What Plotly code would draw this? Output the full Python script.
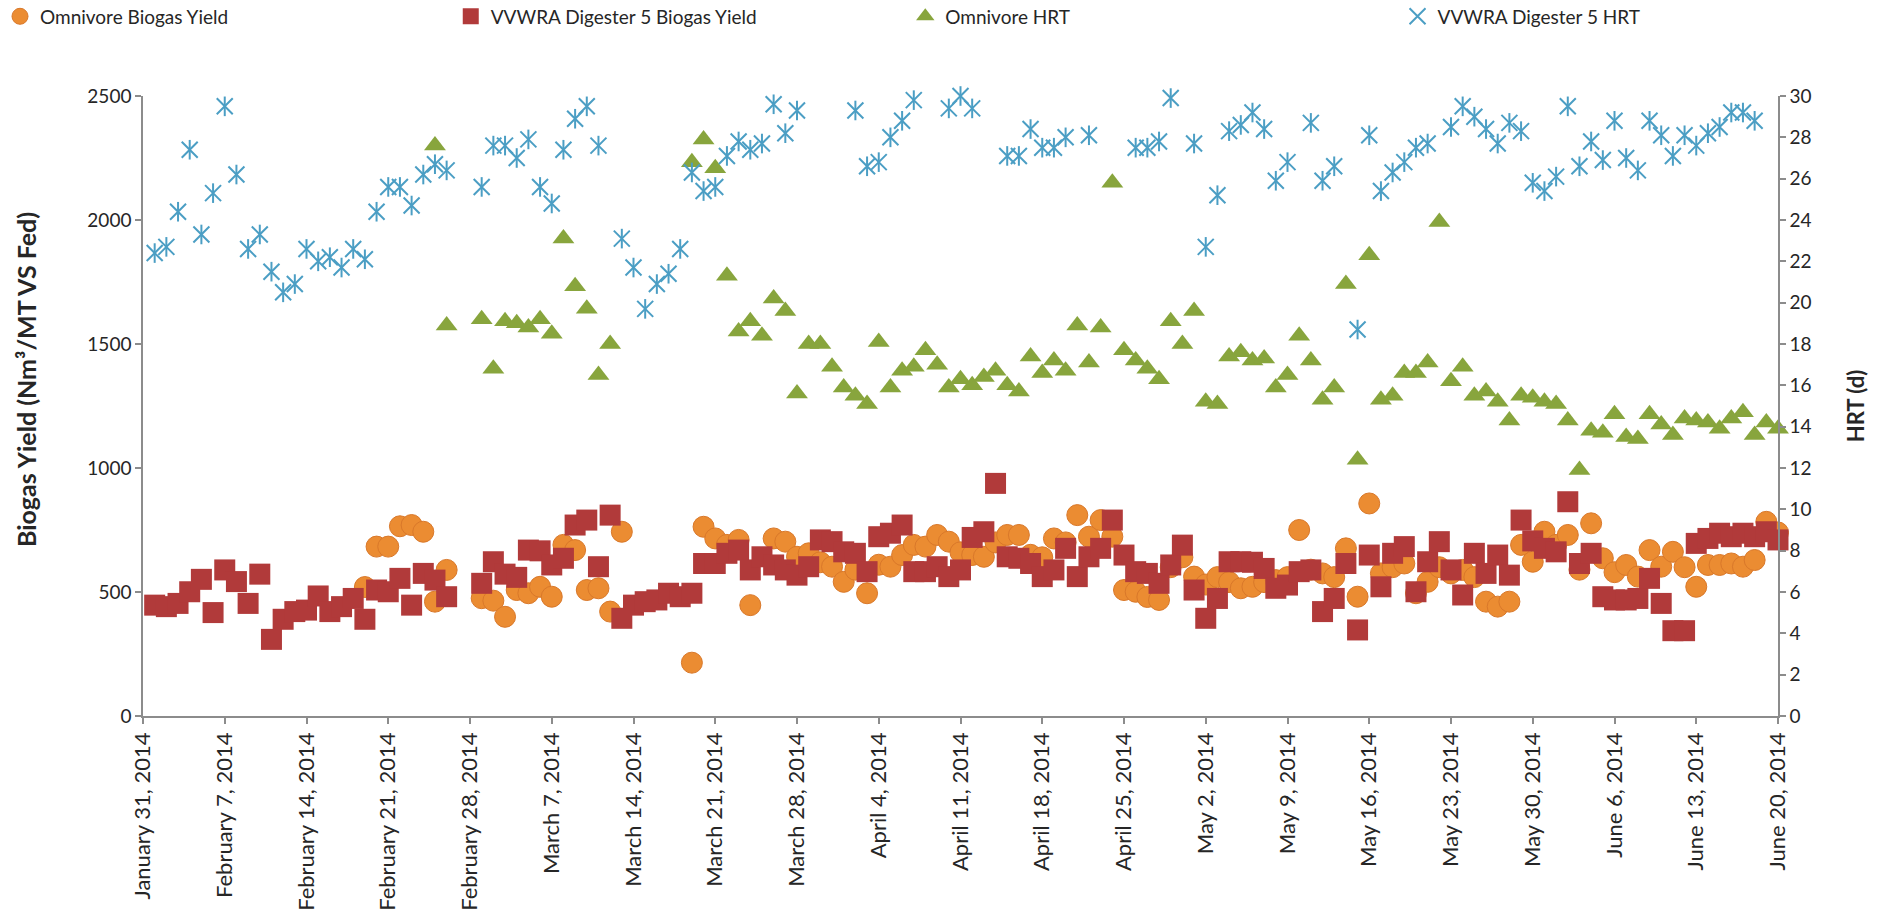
import pandas as pd
import plotly.graph_objects as go

N = None

# Daily observations, Feb 1 2014 .. Jun 20 2014 (one value per day, None = no sample)
dates = pd.date_range("2014-02-01", periods=140, freq="D")

omnivore_yield = [
    N, N, N, N, N, N, N, N, N, N,
    N, N, N, N, N, N, N, N, 520, 683,
    683, 765, 770, 743, 461, 589, N, N, 475, 465,
    400, 508, 495, 521, 481, 690, 669, 508, 515, 421,
    743, N, N, N, N, N, 215, 763, 716, 690,
    710, 447, N, 716, 703, 642, 656, 620, 602, 541,
    590, 495, 610, 602, 649, 690, 683, 730, 703, 660,
    649, 642, 700, 730, 730, 650, 640, 716, 700, 810,
    723, 790, 723, 508, 501, 480, 468, 600, 640, 562,
    530, 560, 540, 515, 521, 540, 548, 560, 750, 590,
    575, 560, 676, 481, 857, 575, 600, 615, 495, 541,
    600, 575, 589, 560, 461, 441, 461, 690, 622, 743,
    690, 730, 590, 777, 636, 580, 609, 562, 669, 602,
    662, 600, 521, 609, 609, 615, 602, 629, 783, 740,
]

vvwra_yield = [
    447, 441, 454, 501, 551, 417, 589, 542, 454, 572,
    309, 390, 421, 427, 484, 421, 441, 474, 390, 508,
    501, 555, 447, 575, 548, 481, N, N, 535, 622,
    572, 559, 669, 666, 609, 636, 770, 790, 602, 810,
    394, 447, 461, 468, 495, 481, 495, 615, 615, 656,
    669, 589, 642, 609, 589, 568, 602, 710, 703, 662,
    656, 582, 723, 737, 770, 582, 582, 602, 562, 589,
    720, 743, 938, 642, 636, 615, 562, 589, 676, 562,
    642, 676, 790, 649, 582, 575, 535, 609, 689, 508,
    394, 474, 622, 622, 620, 595, 515, 528, 582, 589,
    421, 474, 615, 347, 649, 521, 656, 683, 501, 622,
    703, 589, 488, 656, 575, 649, 568, 790, 706, 676,
    662, 864, 615, 656, 481, 468, 468, 474, 555, 454,
    344, 344, 696, 716, 737, 723, 737, 723, 743, 710,
]

omnivore_hrt = [
    N, N, N, N, N, N, N, N, N, N,
    N, N, N, N, N, N, N, N, N, N,
    N, N, N, N, 27.6, 18.9, N, N, 19.2, 16.8,
    19.1, 19.0, 18.8, 19.2, 18.5, 23.1, 20.8, 19.7, 16.5, 18.0,
    N, N, N, N, N, N, 26.8, 27.9, 26.5, 21.3,
    18.6, 19.1, 18.4, 20.2, 19.6, 15.6, 18.0, 18.0, 16.9, 15.9,
    15.5, 15.1, 18.1, 15.9, 16.7, 16.9, 17.7, 17.0, 15.9, 16.3,
    16.0, 16.4, 16.7, 16.0, 15.7, 17.4, 16.6, 17.2, 16.7, 18.9,
    17.1, 18.8, 25.8, 17.7, 17.2, 16.8, 16.3, 19.1, 18.0, 19.6,
    15.2, 15.1, 17.4, 17.6, 17.2, 17.3, 15.9, 16.5, 18.4, 17.2,
    15.3, 15.9, 20.9, 12.4, 22.3, 15.3, 15.5, 16.6, 16.6, 17.1,
    23.9, 16.2, 16.9, 15.5, 15.7, 15.2, 14.3, 15.5, 15.4, 15.2,
    15.1, 14.3, 11.9, 13.8, 13.7, 14.6, 13.5, 13.4, 14.6, 14.1,
    13.6, 14.4, 14.3, 14.2, 13.9, 14.4, 14.7, 13.6, 14.2, 13.9,
]

vvwra_hrt = [
    22.4, 22.7, 24.4, 27.4, 23.3, 25.3, 29.5, 26.2, 22.6, 23.3,
    21.5, 20.5, 20.9, 22.6, 22.0, 22.2, 21.7, 22.6, 22.1, 24.4,
    25.6, 25.6, 24.7, 26.2, 26.7, 26.4, N, N, 25.6, 27.6,
    27.6, 27.0, 27.9, 25.6, 24.8, 27.4, 28.9, 29.5, 27.6, N,
    23.1, 21.7, 19.7, 20.9, 21.4, 22.6, 26.3, 25.4, 25.6, 27.1,
    27.8, 27.4, 27.7, 29.6, 28.2, 29.3, N, N, N, N,
    29.3, 26.6, 26.8, 28.0, 28.8, 29.8, N, N, 29.4, 30.0,
    29.4, N, N, 27.1, 27.1, 28.4, 27.5, 27.5, 28.0, N,
    28.1, N, N, N, 27.5, 27.5, 27.8, 29.9, N, 27.7,
    22.7, 25.2, 28.3, 28.6, 29.2, 28.4, 25.9, 26.8, N, 28.7,
    25.9, 26.6, N, 18.7, 28.1, 25.4, 26.3, 26.8, 27.5, 27.7,
    N, 28.5, 29.5, 29.0, 28.4, 27.7, 28.7, 28.3, 25.8, 25.4,
    26.1, 29.5, 26.6, 27.8, 26.9, 28.8, 27.0, 26.4, 28.8, 28.1,
    27.1, 28.1, 27.6, 28.2, 28.5, 29.2, 29.2, 28.8, N, N,
]

week_ticks = pd.date_range("2014-01-31", "2014-06-20", freq="7D")

ORANGE = "#EB8C32"
RED = "#B13A3A"
GREEN = "#88A53D"
BLUE = "#4B9EC4"
AXIS = "#8C8C8C"
TEXT = "#262626"
FONT = "Lato"

fig = go.Figure()

fig.add_trace(go.Scatter(
    x=dates, y=omnivore_yield, mode="markers", name="Omnivore Biogas Yield",
    marker=dict(symbol="circle", size=21, color=ORANGE, line=dict(color="#D9782A", width=1)),
    cliponaxis=False, legend="legend",
))
fig.add_trace(go.Scatter(
    x=dates, y=vvwra_yield, mode="markers", name="VVWRA Digester 5 Biogas Yield",
    marker=dict(symbol="square", size=21, color=RED, line=dict(width=0)),
    cliponaxis=False, legend="legend2",
))
fig.add_trace(go.Scatter(
    x=dates, y=omnivore_hrt, mode="markers", name="Omnivore HRT", yaxis="y2",
    marker=dict(symbol="triangle-up", size=19, color=GREEN, line=dict(width=0)),
    cliponaxis=False, legend="legend3",
))
# star marker = diagonal cross plus a vertical stroke
fig.add_trace(go.Scatter(
    x=dates, y=vvwra_hrt, mode="markers", name="VVWRA Digester 5 HRT", yaxis="y2",
    marker=dict(symbol="x-thin-open", size=16, color=BLUE, line=dict(color=BLUE, width=2)),
    cliponaxis=False, legend="legend4",
))
fig.add_trace(go.Scatter(
    x=dates, y=vvwra_hrt, mode="markers", showlegend=False, yaxis="y2",
    marker=dict(symbol="line-ns-open", size=14, color=BLUE, line=dict(color=BLUE, width=2)),
    cliponaxis=False, hoverinfo="skip",
))

legend_font = dict(family=FONT, size=19, color=TEXT)
legend_common = dict(
    orientation="h", xref="container", yref="container", y=0.982, yanchor="middle",
    font=legend_font, bgcolor="rgba(0,0,0,0)", itemclick=False,
)

axis_common = dict(
    showline=True, linecolor=AXIS, linewidth=1.5, ticks="outside", tickcolor=AXIS,
    ticklen=6, tickwidth=1.5, showgrid=False, zeroline=False, automargin=False,
    tickfont=dict(family=FONT, size=19, color=TEXT),
)

fig.update_layout(
    width=1886, height=913,
    autosize=False,
    paper_bgcolor="white", plot_bgcolor="white",
    margin=dict(l=143, r=108, t=96, b=197),
    font=dict(family=FONT, color=TEXT),
    legend=dict(legend_common, x=0.0),
    legend2=dict(legend_common, x=0.239),
    legend3=dict(legend_common, x=0.480),
    legend4=dict(legend_common, x=0.741),
    xaxis=dict(
        axis_common, type="date",
        range=["2014-01-31", "2014-06-20"],
        tickvals=week_ticks, tickformat="%B %-d, %Y", tickangle=-90,
        tickfont=dict(family=FONT, size=22, color=TEXT),
    ),
    yaxis=dict(axis_common, range=[0, 2500], tick0=0, dtick=500),
    yaxis2=dict(
        axis_common, overlaying="y", side="right", range=[0, 30], tick0=0, dtick=2,
        title=dict(text="<b>HRT (d)</b>",
                   font=dict(family=FONT, size=22, color=TEXT), standoff=38),
    ),
    annotations=[
        dict(
            text="<b>Biogas Yield (Nm³/MT VS Fed)</b>", textangle=-90,
            xref="paper", yref="paper", x=0, y=0.5, xshift=-117, yshift=26,
            xanchor="center", yanchor="middle", showarrow=False,
            font=dict(family=FONT, size=25, color=TEXT),
        ),
    ],
)

fig.write_html("out.html")
